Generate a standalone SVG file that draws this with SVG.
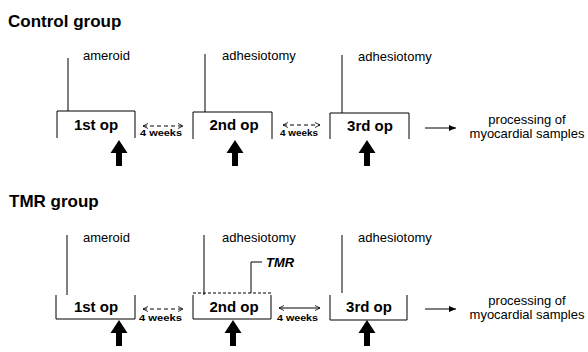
<svg xmlns="http://www.w3.org/2000/svg" width="588" height="352" viewBox="0 0 588 352">
<defs>
<style>
text{font-family:"Liberation Sans",Arial,sans-serif;fill:#000}
.title{font-size:17px;font-weight:bold}
.lbl{font-size:13px}
.op{font-size:15px;font-weight:bold;text-anchor:middle}
.wk{font-size:9px;font-weight:bold}
.tmr{font-size:13px;font-weight:bold;font-style:italic}
.proc{font-size:13px;text-anchor:middle}
.ln{fill:none;stroke:#000;stroke-width:1}
.dash{stroke-dasharray:4 3}
.big{fill:#000}
</style>
<marker id="chev" viewBox="0 0 6 6" refX="5" refY="3" markerWidth="6" markerHeight="6" orient="auto-start-reverse" markerUnits="userSpaceOnUse">
<path d="M0,0.5 L5,3 L0,5.5" fill="none" stroke="#000" stroke-width="0.8"/>
</marker>
<marker id="tri" viewBox="0 0 7 6" refX="7" refY="3" markerWidth="7" markerHeight="6" orient="auto" markerUnits="userSpaceOnUse">
<path d="M0,0 L7,3 L0,6 Z" fill="#000"/>
</marker>
<polygon id="up" points="0,0 8.5,13 3,13 3,26 -3,26 -3,13 -8.5,13"/>
</defs>

<text class="title" x="8" y="27">Control group</text>
<text class="title" x="9" y="207">TMR group</text>

<g id="c-op1">
<path class="ln" d="M57,138 V111 H135 V138"/>
<text class="op" x="96" y="130">1st op</text>
</g>
<g id="c-op2">
<path class="ln" d="M193,139 V112 H272 V139"/>
<text class="op" x="234" y="130">2nd op</text>
</g>
<g id="c-op3">
<path class="ln" d="M330,139 V113 H409 V139"/>
<text class="op" x="370" y="131">3rd op</text>
</g>
<g id="c-proc">
<text class="proc" x="527" y="124">processing of</text>
<text class="proc" x="527" y="138">myocardial samples</text>
</g>
<g id="c-labels">
<text class="lbl" x="83" y="60">ameroid</text>
<text class="lbl" x="222" y="60">adhesiotomy</text>
<text class="lbl" x="358" y="61">adhesiotomy</text>
<text class="wk" x="140" y="136" textLength="42" lengthAdjust="spacingAndGlyphs">4 weeks</text>
<text class="wk" x="280" y="136" textLength="38" lengthAdjust="spacingAndGlyphs">4 weeks</text>
</g>

<g id="t-op1">
<path class="ln" d="M56,295 V319 H135 V295"/>
<text class="op" x="96" y="312">1st op</text>
</g>
<g id="t-op2">
<path class="ln" d="M193,295 V319 H271 V295"/>
<path class="ln" d="M193,293 H271" stroke-dasharray="3 2"/>
<text class="op" x="234" y="312">2nd op</text>
</g>
<g id="t-op3">
<path class="ln" d="M330,295 V320 H407 V295"/>
<text class="op" x="369" y="312">3rd op</text>
</g>
<g id="t-proc">
<text class="proc" x="527" y="305">processing of</text>
<text class="proc" x="527" y="319">myocardial samples</text>
</g>
<g id="t-labels">
<text class="lbl" x="83" y="242">ameroid</text>
<text class="lbl" x="222" y="242">adhesiotomy</text>
<text class="lbl" x="358" y="242">adhesiotomy</text>
<text class="tmr" x="266" y="267">TMR</text>
<text class="wk" x="139" y="321" textLength="43" lengthAdjust="spacingAndGlyphs">4 weeks</text>
<text class="wk" x="277" y="321" textLength="41" lengthAdjust="spacingAndGlyphs">4 weeks</text>
</g>

<g id="connectors">
<path class="ln" d="M68,58 V111"/>
<path class="ln" d="M205,54 V112"/>
<path class="ln" d="M342,55 V113"/>
<path class="ln" d="M67,235 V295"/>
<path class="ln" d="M204,235 V295"/>
<path class="ln" d="M342,235 V293"/>
<path class="ln" d="M251,293 V262 H262"/>
<path class="ln dash" d="M143,126 H183" marker-start="url(#chev)" marker-end="url(#chev)"/>
<path class="ln dash" d="M283,125 H320" marker-start="url(#chev)" marker-end="url(#chev)"/>
<path class="ln dash" d="M143,309 H183" marker-start="url(#chev)" marker-end="url(#chev)"/>
<path class="ln" d="M279,308 H320" marker-start="url(#chev)" marker-end="url(#chev)"/>
<path class="ln" d="M425,128 H456" marker-end="url(#tri)"/>
<path class="ln" d="M425,309 H456" marker-end="url(#tri)"/>
<use href="#up" class="big" x="119" y="140"/>
<use href="#up" class="big" x="235" y="140"/>
<use href="#up" class="big" x="367" y="140"/>
<use href="#up" class="big" x="119" y="320"/>
<use href="#up" class="big" x="233" y="320"/>
<use href="#up" class="big" x="367" y="320"/>
</g>
</svg>
